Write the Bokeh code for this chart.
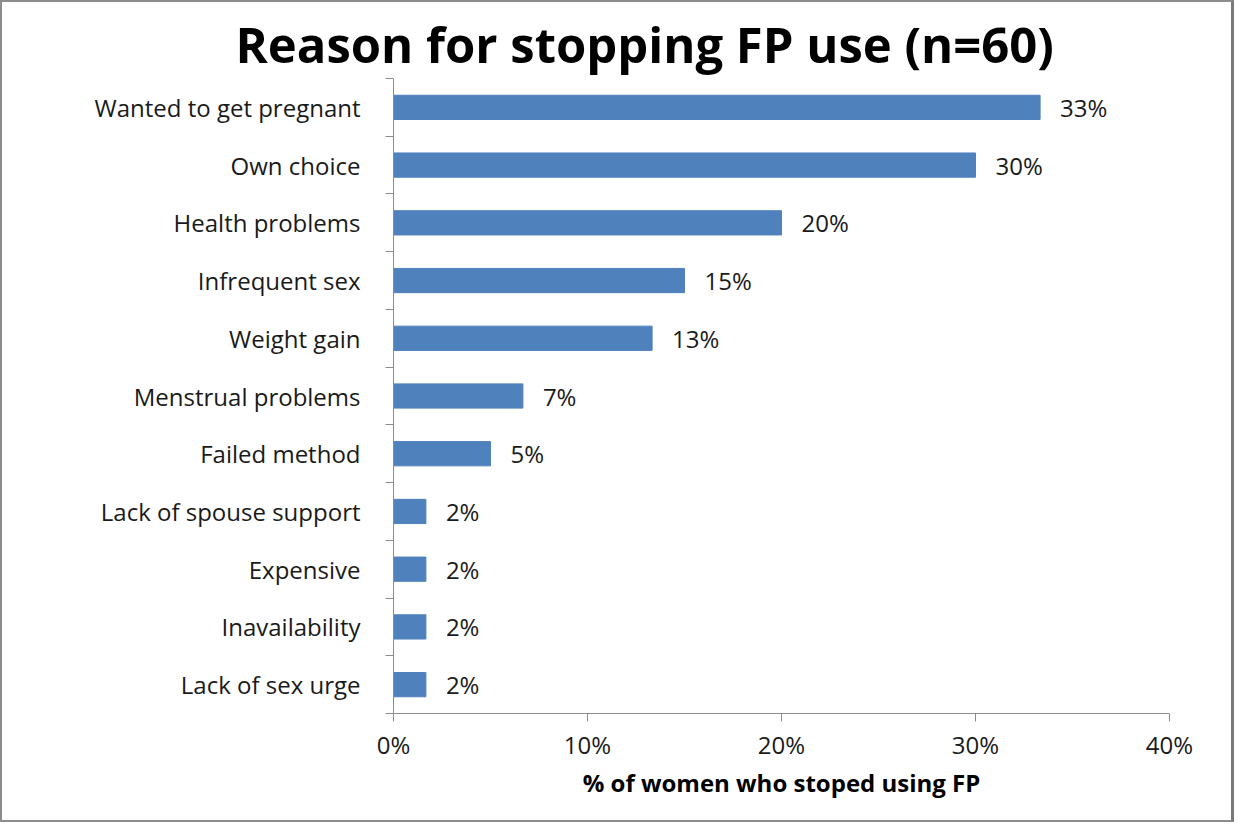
from bokeh.plotting import figure
from bokeh.models import Range1d, FixedTicker, NumeralTickFormatter, ColumnDataSource
from bokeh.core.properties import value
from bokeh.embed import file_html
from bokeh.resources import INLINE

categories = ["Wanted to get pregnant", "Own choice", "Health problems", "Infrequent sex",
              "Weight gain", "Menstrual problems", "Failed method", "Lack of spouse support",
              "Expensive", "Inavailability", "Lack of sex urge"]
percent = [33.33, 30.0, 20.0, 15.0, 13.33, 6.67, 5.0, 1.67, 1.67, 1.67, 1.67]
bar_labels = ["33%", "30%", "20%", "15%", "13%", "7%", "5%", "2%", "2%", "2%", "2%"]
x_ticks = [0, 0.1, 0.2, 0.3, 0.4]

FONT = "Open Sans"
n = len(categories)
ypos = [n - i - 0.5 for i in range(n)]
xs = [v / 100.0 for v in percent]

src = ColumnDataSource(dict(y=ypos, x=xs, lab=bar_labels, cat=categories))

p = figure(width=1234, height=822, output_backend="svg", toolbar_location=None,
           x_range=Range1d(0, 0.4), y_range=Range1d(0, n),
           min_border_left=391, min_border_right=67, min_border_top=76, min_border_bottom=111)
p.styles = {"border": "2px solid #8c8c8c", "border-right": "3px solid #7a7a7a"}

p.hbar(y="y", right="x", left=0, height=0.42, source=src, color="#4F81BD")
p.text(x="x", y="y", text="lab", source=src, x_offset=20, text_baseline="middle",
       text_align="left", text_font=value(FONT), text_font_size="24px", text_color="#1a1a1a")

p.title.text = "Reason for stopping FP use (n=60)"
p.title.text_font = FONT
p.title.text_font_size = "49px"
p.title.text_font_style = "bold"
p.title.text_color = "#000000"
p.title.align = "left"
p.title.offset = -158
p.title.standoff = 3

p.grid.visible = False
p.outline_line_color = None

xa = p.xaxis[0]
xa.ticker = FixedTicker(ticks=x_ticks)
xa.formatter = NumeralTickFormatter(format="0%")
xa.major_tick_in = 0
xa.major_tick_out = 8
xa.minor_tick_out = 0
xa.minor_tick_in = 0
xa.axis_line_color = "#8c8c8c"
xa.major_tick_line_color = "#8c8c8c"
xa.major_label_text_font = FONT
xa.major_label_text_font_size = "24px"
xa.major_label_text_color = "#1a1a1a"
xa.major_label_standoff = 6
xa.axis_label = "% of women who stoped using FP"
xa.axis_label_text_font = FONT
xa.axis_label_text_font_size = "24px"
xa.axis_label_text_font_style = "bold"
xa.axis_label_text_color = "#000000"
xa.axis_label_standoff = 2

ya = p.yaxis[0]
ya.ticker = FixedTicker(ticks=ypos, minor_ticks=list(range(0, n + 1)))
ya.major_label_overrides = {y: c for y, c in zip(ypos, categories)}
ya.major_tick_in = 0
ya.major_tick_out = 0
ya.minor_tick_in = 0
ya.minor_tick_out = 8
ya.axis_line_color = "#8c8c8c"
ya.minor_tick_line_color = "#8c8c8c"
ya.major_label_text_font = FONT
ya.major_label_text_font_size = "24px"
ya.major_label_text_color = "#1a1a1a"
ya.major_label_standoff = 25

open("out.html", "w").write(file_html(p, INLINE))
